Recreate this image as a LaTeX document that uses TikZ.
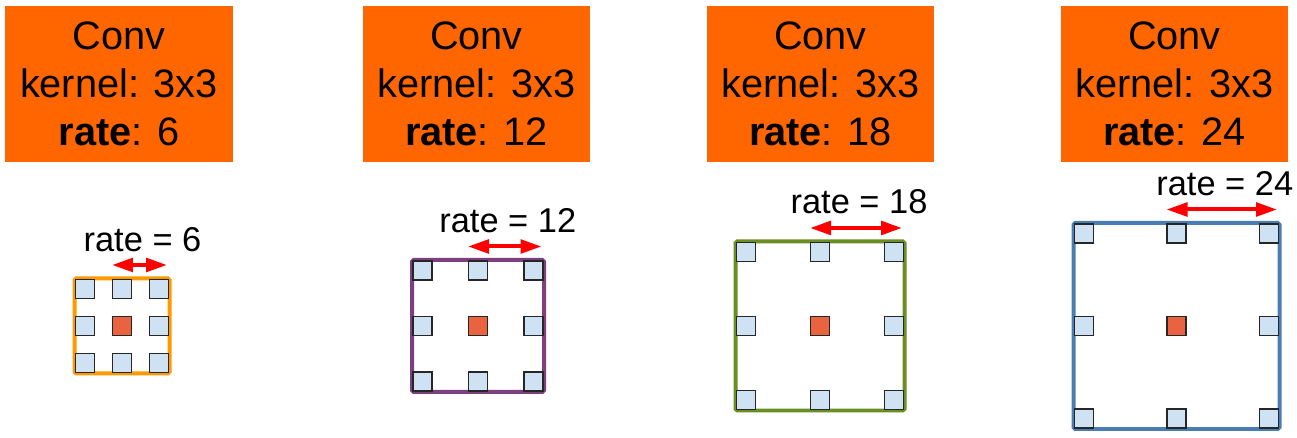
\documentclass[tikz,border=0pt]{standalone}
\usepackage{fontspec}
\setmainfont{Liberation Sans}
\usetikzlibrary{arrows.meta,positioning}

\definecolor{convorange}{HTML}{FF6600}
\definecolor{frameorange}{HTML}{FF9900}
\definecolor{framepurple}{HTML}{7E3F80}
\definecolor{framegreen}{HTML}{6B8E23}
\definecolor{frameblue}{HTML}{4A7EB3}
\definecolor{taphue}{HTML}{CFE2F3}
\definecolor{centerred}{HTML}{EA6341}

\begin{document}
\begin{tikzpicture}[
  x=0.02cm, y=-0.02cm,
  convbox/.style={fill=convorange, minimum width=4.56cm, minimum height=3.12cm,
    align=center, inner sep=0pt, font=\fontsize{22.6}{27.2}\selectfont},
  tap/.style={draw=black!85, line width=0.6pt, fill=taphue, minimum size=0.38cm, inner sep=0pt},
  centertap/.style={tap, fill=centerred},
  frame/.style={line width=0.08cm, rounded corners=1pt},
  rategap/.style={draw=red, line width=0.08cm,
    {Triangle[length=0.42cm,width=0.27cm]}-{Triangle[length=0.42cm,width=0.27cm]}},
  ratelabel/.style={font=\fontsize{19.6}{23}\selectfont, anchor=base}
]
\useasboundingbox (0,0) rectangle (1297,438);

\foreach \n/\bx/\cx/\gap/\framecol/\rt in {
    1/119/122/37/frameorange/6,
    2/476.5/478/55.5/framepurple/12,
    3/820.5/820/74/framegreen/18,
    4/1174.5/1176.5/92.5/frameblue/24} {
  % layer box
  \node[convbox] (conv\n) at (\bx,84) {Conv\\kernel: 3x3\\\textbf{rate}: \rt};
  % field of the dilated kernel
  \draw[frame, draw=\framecol] (\cx-\gap-10.5,326-\gap-10.5) rectangle (\cx+\gap+10.5,326+\gap+10.5);
  \foreach \u/\v in {0/0,1/0,2/0,0/1,2/1,0/2,1/2,2/2}
    \node[tap] (tap\n-\u\v) at (\cx+\u*\gap-\gap,326+\v*\gap-\gap) {};
  \node[centertap] (tap\n-11) at (\cx,326) {};
  % gap between taps
  \coordinate (as\n) at ([shift={(-10,-24)}]tap\n-10.center);
  \coordinate (ae\n) at ([shift={(8,-24)}]tap\n-20.center);
  \draw[rategap] (as\n) -- (ae\n)
    node[ratelabel, midway, xshift=0.06cm, yshift=0.28cm] {rate = \rt};
}
\end{tikzpicture}
\end{document}
